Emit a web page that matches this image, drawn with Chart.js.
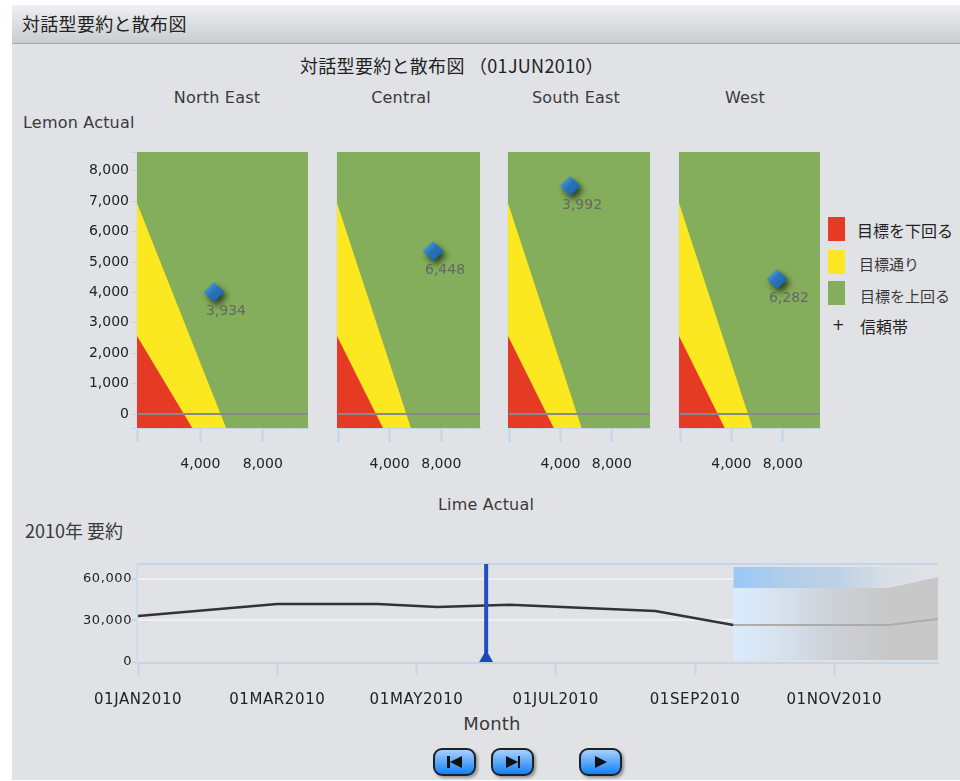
<!DOCTYPE html>
<html lang="ja">
<head>
<meta charset="utf-8">
<title>対話型要約と散布図</title>
<script src="https://cdn.jsdelivr.net/npm/chart.js@4/dist/chart.umd.js"></script>
<style>
  html, body { margin: 0; padding: 0; background: #fff; }
  body { width: 960px; height: 781px; overflow: hidden; position: relative; font-family: "DejaVu Sans", "Noto Sans CJK JP", sans-serif; }
  #panel { position: absolute; left: 12px; top: 5px; width: 948px; height: 775px; background: #e0e2e6; }
  #header { position: absolute; left: 12px; top: 5px; width: 948px; height: 38px; background: linear-gradient(#eef0f2, #c9ccd0); border-bottom: 1px solid #a2a5a9; }
  canvas { position: absolute; }
  .t { position: absolute; white-space: nowrap; color: #3a3a3a; font-size: 16px; line-height: 20px; letter-spacing: .2px; }
  .c { transform: translateX(-50%); }
  .jp { font-family: "Noto Sans CJK JP", sans-serif; letter-spacing: 0; }
  .swatch { position: absolute; left: 828px; width: 17px; height: 24px; }
  .btn { position: absolute; top: 748px; width: 43px; height: 28px; box-sizing: border-box; border: 2px solid #1e2226; border-radius: 9px; background: linear-gradient(#a6d0ff, #1480f2); box-shadow: 2px 2px 3px rgba(0,0,0,.35); }
  .btn svg { position: absolute; left: 0; top: 0; }
</style>
</head>
<body>
<div id="panel"></div>
<div id="header"></div>

<div class="t jp" style="left:22px;top:13px;font-size:18px;letter-spacing:.3px;color:#222">対話型要約と散布図</div>
<div class="t jp" style="left:300px;top:55px;font-size:18px;letter-spacing:.3px;color:#222">対話型要約と散布図 （01JUN2010）</div>
<div class="t" style="left:23px;top:113px">Lemon Actual</div>
<div class="t c" style="left:486px;top:495px">Lime Actual</div>
<div class="t jp" style="left:25px;top:520px;font-size:18px">2010年 要約</div>
<div class="t c" style="left:492px;top:714px;font-size:18px">Month</div>

<div id="titres"></div>

<div class="swatch" style="top:217px;background:#e53a24"></div>
<div class="swatch" style="top:250px;background:#fbe821"></div>
<div class="swatch" style="top:281px;background:#84ae5b"></div>
<div class="t jp" style="left:857px;top:220px;font-size:16px;color:#222">目標を下回る</div>
<div class="t jp" style="left:859px;top:254px;font-size:15px">目標通り</div>
<div class="t jp" style="left:860px;top:286px;font-size:15px">目標を上回る</div>
<div class="t" style="left:832px;top:315px;font-size:15px;color:#222">+</div>
<div class="t jp" style="left:860px;top:316px;font-size:16px;color:#222">信頼帯</div>

<canvas id="c0" width="250" height="340" style="left:60px;top:140px"></canvas>
<canvas id="c1" width="147" height="340" style="left:335px;top:140px"></canvas>
<canvas id="c2" width="146" height="340" style="left:506px;top:140px"></canvas>
<canvas id="c3" width="145" height="340" style="left:677px;top:140px"></canvas>
<canvas id="resume" width="885" height="175" style="left:60px;top:555px"></canvas>

<div class="btn" style="left:433px"><svg width="39" height="24"><rect x="12" y="6" width="3" height="12" fill="#111"/><path d="M27 6V18L15 12Z" fill="#111"/></svg></div>
<div class="btn" style="left:491px"><svg width="39" height="24"><path d="M13 6V18L25 12Z" fill="#111"/><rect x="25" y="6" width="2" height="12" fill="#111"/></svg></div>
<div class="btn" style="left:579px"><svg width="39" height="24"><path d="M14 6V18L26 12Z" fill="#111"/></svg></div>

<script>
// Donnees du nuage de points
const regions = ["North East", "Central", "South East", "West"];
const limeActual = [4870, 7360, 4750, 7550];
const lemonActual = [4010, 5360, 7500, 4440];
const pointLabels = ["3,934", "6,448", "3,992", "6,282"];
const limeMin = [-64, -78, -78, -78];
const limeMax = [10900, 11000, 10970, 10900];
const lemonMin = -460;
const lemonMax = 8620;
const lemonTicks = [-460, 0, 1000, 2000, 3000, 4000, 5000, 6000, 7000, 8000, 8620];
const limeTicks = [0, 4000, 8000];
const limeMinorTicks = [2000, 6000, 10000];
const redTop = 2566;
const redFoot = 3480;
const yellowTop = 6940;
const yellowFoot = 5650;

// Donnees du resume 2010 (x = mois depuis janvier)
const monthTicks = [0, 2, 4, 6, 8, 10];
const monthLabels = ["01JAN2010", "01MAR2010", "01MAY2010", "01JUL2010", "01SEP2010", "01NOV2010"];
const actualMonths = [0, 2, 3.44, 4.3, 5.34, 7.43, 8.55];
const actualValues = [33250, 41900, 41900, 39800, 41400, 36900, 26700];
const forecastMonths = [8.55, 10.78, 11.49];
const forecastValues = [26700, 26700, 31100];
const bandUpper = [53500, 53500, 61400];
const bandLower = [1450, 1450, 1450];
const stripTop = [68700, 68700, 68700];
const currentMonth = 5;
const totalTicks = [0, 30000, 60000, 70800];
const totalMin = -700;
const totalMax = 70800;

const axisBlue = "#c3d5e8";
const font = { family: "DejaVu Sans", size: 14 };

const titres = document.getElementById("titres");
regions.forEach((nom, i) => {
  const d = document.createElement("div");
  d.className = "t c";
  d.style.left = [217, 401, 576, 745][i] + "px";
  d.style.top = "88px";
  d.textContent = nom;
  titres.appendChild(d);
});

// Losange bleu avec ombre, utilise comme pointStyle
function creerLosange() {
  const cv = document.createElement("canvas");
  cv.width = 40;
  cv.height = 40;
  const g = cv.getContext("2d");
  const grad = g.createLinearGradient(12, 12, 28, 28);
  grad.addColorStop(0, "#5aa2dc");
  grad.addColorStop(0.45, "#2a74bc");
  grad.addColorStop(1, "#1c62a8");
  g.shadowColor = "rgba(0,0,0,.65)";
  g.shadowBlur = 6;
  g.shadowOffsetX = 3;
  g.shadowOffsetY = 4;
  g.fillStyle = grad;
  g.beginPath();
  g.moveTo(20, 10);
  g.lineTo(30.5, 20);
  g.lineTo(20, 30);
  g.lineTo(9.5, 20);
  g.closePath();
  g.fill();
  return cv;
}
const losange = creerLosange();

// Petites graduations et etiquette du point
const decorPanneau = {
  id: "decorPanneau",
  afterDraw(chart, args, opts) {
    const { ctx, scales, chartArea } = chart;
    ctx.save();
    ctx.fillStyle = "#d5e2ee";
    limeMinorTicks.forEach(v => {
      ctx.fillRect(Math.round(scales.x.getPixelForValue(v)), chartArea.bottom, 1, 3);
    });
    ctx.font = "14px 'DejaVu Sans'";
    ctx.fillStyle = "#666";
    ctx.textAlign = "center";
    ctx.textBaseline = "middle";
    const px = scales.x.getPixelForValue(limeActual[opts.index]);
    const py = scales.y.getPixelForValue(lemonActual[opts.index]);
    ctx.fillText(pointLabels[opts.index], px + 12, py + 19);
    ctx.restore();
  }
};

// Les dates de l'axe du bas sont plus espacees
const espaceDates = {
  id: "espaceDates",
  beforeDraw(chart) {
    chart.ctx.letterSpacing = "0.6px";
  }
};

function zone(points, couleur, ordre) {
  return { data: points, showLine: true, pointRadius: 0, borderWidth: 0, fill: "start", backgroundColor: couleur, order: ordre };
}

function creerPanneau(i) {
  const xMin = limeMin[i];
  const xMax = limeMax[i];
  new Chart(document.getElementById("c" + i), {
    type: "scatter",
    data: {
      datasets: [
        zone([{ x: xMin, y: lemonMax }, { x: xMax, y: lemonMax }], "#84ae5b", 5),
        zone([{ x: xMin, y: yellowTop }, { x: yellowFoot, y: lemonMin }], "#fbe821", 4),
        zone([{ x: xMin, y: redTop }, { x: redFoot, y: lemonMin }], "#e53a24", 3),
        { data: [{ x: 0, y: 0 }, { x: xMax, y: 0 }], showLine: true, pointRadius: 0, borderColor: "#8a8a8a", borderWidth: 2, order: 2 },
        { data: [{ x: limeActual[i], y: lemonActual[i] }], pointStyle: losange, clip: false, order: 1 }
      ]
    },
    plugins: [decorPanneau],
    options: {
      responsive: false,
      animation: false,
      layout: { autoPadding: false, padding: { top: 12, right: 2, left: 0, bottom: 0 } },
      plugins: { legend: { display: false }, tooltip: { enabled: false }, decorPanneau: { index: i } },
      scales: {
        x: {
          type: "linear",
          min: xMin,
          max: xMax,
          afterBuildTicks: s => { s.ticks = limeTicks.map(v => ({ value: v })); },
          afterFit: s => { s.height = 52; s.paddingLeft = 0; s.paddingRight = 0; },
          border: { color: axisBlue, width: 2 },
          grid: { drawOnChartArea: false, tickLength: 14, tickColor: axisBlue, tickWidth: 2 },
          ticks: {
            autoSkip: false,
            maxRotation: 0,
            padding: 14,
            font: font,
            color: "#222",
            callback: v => (v === 0 ? "" : v.toLocaleString("en-US"))
          }
        },
        y: {
          type: "linear",
          min: lemonMin,
          max: lemonMax,
          afterBuildTicks: s => { s.ticks = lemonTicks.map(v => ({ value: v })); },
          afterFit: s => { s.width = i === 0 ? 77 : 2; s.paddingTop = 0; s.paddingBottom = 0; },
          border: { color: "#d3e0ec", width: 2 },
          grid: { drawOnChartArea: false, drawTicks: i === 0, tickLength: 6, tickColor: axisBlue },
          ticks: {
            display: i === 0,
            autoSkip: false,
            padding: 2,
            font: font,
            color: "#222",
            callback: v => (v === lemonMin || v === lemonMax ? "" : v.toLocaleString("en-US"))
          }
        }
      }
    }
  });
}
regions.forEach((r, i) => creerPanneau(i));

// Degrades de la zone de prevision
function degrade(chart, stops) {
  if (!chart.chartArea) return "transparent";
  const x = chart.scales.x;
  const g = chart.ctx.createLinearGradient(x.getPixelForValue(forecastMonths[0]), 0, x.getPixelForValue(forecastMonths[2]), 0);
  stops.forEach((c, i) => g.addColorStop(i / (stops.length - 1), c));
  return g;
}

function serie(xs, ys) {
  return xs.map((x, i) => ({ x: x, y: ys[i] }));
}

new Chart(document.getElementById("resume"), {
  type: "scatter",
  data: {
    datasets: [
      {
        data: serie(forecastMonths, stripTop), showLine: true, pointRadius: 0, borderWidth: 0, fill: "+1", order: 6,
        backgroundColor: c => degrade(c.chart, ["#99c8f9", "#b2cde9", "#bdd1e6", "#d8dee5", "#e0e2e6"])
      },
      {
        data: serie(forecastMonths, bandUpper), showLine: true, pointRadius: 0, borderWidth: 0, fill: "+1", order: 5,
        backgroundColor: c => degrade(c.chart, ["#dcecfc", "#d6e0ec", "#ccd0d6", "#c8c8c8", "#c8c8c8"])
      },
      { data: serie(forecastMonths, bandLower), showLine: true, pointRadius: 0, borderWidth: 0, fill: false, order: 4 },
      { data: serie(forecastMonths, forecastValues), showLine: true, pointRadius: 0, borderColor: "#acacac", borderWidth: 2, order: 3 },
      { data: serie(actualMonths, actualValues), showLine: true, pointRadius: 0, borderColor: "#333", borderWidth: 2.5, order: 2 },
      { data: [{ x: currentMonth, y: 0 }, { x: currentMonth, y: totalMax }], showLine: true, pointRadius: 0, borderColor: "#2050c0", borderWidth: 4, order: 1 },
      { data: [{ x: currentMonth, y: 3000 }], pointStyle: "triangle", pointRadius: 8, backgroundColor: "#1a48b8", borderWidth: 0, clip: false, order: 0 }
    ]
  },
  plugins: [espaceDates],
  options: {
    responsive: false,
    animation: false,
    layout: { autoPadding: false, padding: { top: 9, right: 7, left: 0, bottom: 0 } },
    plugins: { legend: { display: false }, tooltip: { enabled: false } },
    scales: {
      x: {
        type: "linear",
        min: -0.015,
        max: 11.49,
        afterBuildTicks: s => { s.ticks = monthTicks.map(v => ({ value: v })); },
        afterFit: s => { s.height = 67; s.paddingLeft = 0; s.paddingRight = 0; },
        border: { color: axisBlue, width: 2 },
        grid: { drawOnChartArea: false, tickLength: 12, tickColor: axisBlue, tickWidth: 2 },
        ticks: {
          autoSkip: false,
          maxRotation: 0,
          padding: 16,
          font: { family: "DejaVu Sans", size: 15 },
          color: "#222",
          callback: (v, idx) => monthLabels[idx]
        }
      },
      y: {
        type: "linear",
        min: totalMin,
        max: totalMax,
        afterBuildTicks: s => { s.ticks = totalTicks.map(v => ({ value: v })); },
        afterFit: s => { s.width = 77; s.paddingTop = 0; s.paddingBottom = 0; },
        border: { color: "#cfdcea", width: 2 },
        grid: {
          lineWidth: 2,
          color: c => (c.tick.value === totalMax ? axisBlue : c.tick.value === 0 ? "transparent" : "#eeeff1"),
          tickLength: 5,
          tickColor: c => (c.tick.value === totalMax ? "transparent" : axisBlue)
        },
        ticks: {
          autoSkip: false,
          padding: 0,
          font: { family: "DejaVu Sans", size: 13 },
          color: "#222",
          callback: v => (v === totalMax ? "" : v.toLocaleString("en-US"))
        }
      }
    }
  }
});
</script>
</body>
</html>
